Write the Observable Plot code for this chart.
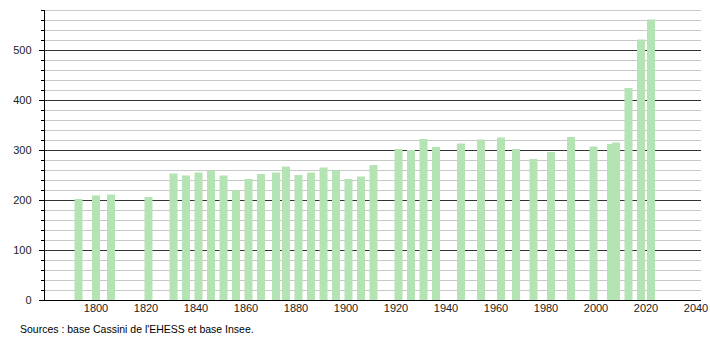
<!DOCTYPE html>
<html>
<head>
<meta charset="utf-8">
<script src="https://cdn.jsdelivr.net/npm/d3@7"></script>
<script src="https://cdn.jsdelivr.net/npm/@observablehq/plot@0.6"></script>
<style>
  html, body { margin: 0; padding: 0; background: #fff; }
  #chart svg { display: block; }
  #caption { font-family: "Liberation Sans", Arial, sans-serif; font-size: 10.5px; color: #000; padding-left: 20px; height: 22px; line-height: 22px; }
</style>
</head>
<body>
<div id="chart"></div>
<div id="caption">Sources : base Cassini de l'EHESS et base Insee.</div>
<script>
const years = [1793,1800,1806,1821,1831,1836,1841,1846,1851,1856,1861,1866,1872,1876,1881,1886,1891,1896,1901,1906,1911,1921,1926,1931,1936,1946,1954,1962,1968,1975,1982,1990,1999,2006,2008,2013,2018,2022];
const population = [202,209,211,206,253,249,255,259,249,220,242,252,255,267,250,255,265,259,242,247,270,302,300,322,306,313,321,325,302,282,296,326,307,312,315,424,521,561];
const xTicks = [1800,1820,1840,1860,1880,1900,1920,1940,1960,1980,2000,2020,2040];
const yTicks = [0,100,200,300,400,500];
const yMinor = d3.range(20, 600, 20).filter(v => v % 100 !== 0);

const data = years.map((y, i) => ({year: y, pop: population[i]}));

const chart = Plot.plot({
  width: 710,
  height: 318,
  marginLeft: 44,
  marginRight: 9,
  marginTop: 10,
  marginBottom: 18,
  style: {fontFamily: "'Liberation Sans', Arial, sans-serif", fontSize: "11px", color: "#222", background: "#fff"},
  x: {domain: [1779.4, 2042.2], label: null},
  y: {domain: [0, 580], label: null},
  marks: [
    Plot.ruleY(yMinor, {stroke: "#c8c8c8", strokeWidth: 1}),
    Plot.ruleY(yTicks.filter(v => v > 0), {stroke: "#333", strokeWidth: 1}),
    Plot.ruleX(data, {x: "year", y: "pop", stroke: "#b4e4b4", strokeWidth: 8}),
    Plot.ruleY([0], {stroke: "#000", strokeWidth: 1}),
    Plot.frame({anchor: "left", stroke: "#000"}),
    Plot.axisY(yMinor, {tickSize: 3, text: null, label: null, stroke: "#000"}),
    Plot.axisY(yTicks, {tickSize: 5, tickPadding: 8, label: null, stroke: "#000", fill: "#222"}),
    Plot.axisX(xTicks, {tickSize: 0, tickPadding: 4, label: null, tickFormat: d => String(d), fill: "#222"})
  ]
});
document.getElementById("chart").appendChild(chart);
</script>
</body>
</html>
